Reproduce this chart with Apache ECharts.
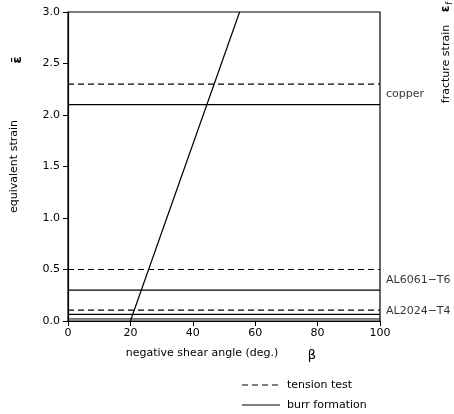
<!DOCTYPE html>
<html>
<head>
<meta charset="utf-8">
<script src="https://cdn.jsdelivr.net/npm/echarts@6/dist/echarts.min.js"></script>
<style>
  html, body { margin: 0; padding: 0; background: #fff; }
  #chart { width: 454px; height: 414px; }
</style>
</head>
<body>
<div id="chart"></div>
<script>
// material names and strain levels
var materials = ['copper', 'AL6061\u2212T6', 'AL2024\u2212T4']
var tensionStrain = [2.3, 0.5, 0.105]
var burrStrain = [2.1, 0.3, 0.065]
var labelStrain = [2.2, 0.4, 0.1]
// extra faint line near the bottom
var bottomLine = [0.02]
// burr formation line against shear angle
var burrAngle = [20, 55]
var burrAngleStrain = [0, 3.0]
var legendNames = ['tension test', 'burr formation']

var font = 'DejaVu Sans, Liberation Sans, sans-serif'
var myChart = echarts.init(document.getElementById('chart'))

var series = []
for (var i = 0; i < materials.length; i++) {
  series.push({
    name: legendNames[0], type: 'line', symbol: 'none', silent: true,
    data: [[0, tensionStrain[i]], [100, tensionStrain[i]]],
    lineStyle: { color: '#000', width: 1.2, type: [6, 4] }
  })
  series.push({
    name: legendNames[1], type: 'line', symbol: 'none', silent: true,
    data: [[0, burrStrain[i]], [100, burrStrain[i]]],
    lineStyle: { color: '#000', width: 1.2, type: 'solid' }
  })
}
series.push({
  name: legendNames[1], type: 'line', symbol: 'none', silent: true,
  data: [[0, bottomLine[0]], [100, bottomLine[0]]],
  lineStyle: { color: '#000', width: 1, type: 'solid' }
})
series.push({
  name: legendNames[1], type: 'line', symbol: 'none', silent: true,
  data: [[burrAngle[0], burrAngleStrain[0]], [burrAngle[1], burrAngleStrain[1]]],
  lineStyle: { color: '#000', width: 1.2, type: 'solid' }
})
// material labels just right of the frame
series.push({
  name: 'labels', type: 'scatter', symbolSize: 0, silent: true,
  data: materials.map(function (m, k) { return { value: [100, labelStrain[k]], name: m } }),
  label: {
    show: true, position: 'right', distance: 6, formatter: '{b}',
    color: '#000', fontFamily: font, fontSize: 11
  }
})

// legend drawn by hand: dashed / solid sample + text
var legendGraphic = []
legendNames.forEach(function (n, k) {
  var y = 385 + k * 20
  legendGraphic.push({
    type: 'line', shape: { x1: 242, y1: y, x2: 280, y2: y },
    style: { stroke: '#000', lineWidth: 1.2, lineDash: k === 0 ? [6, 4] : null }
  })
  legendGraphic.push({
    type: 'text', x: 287, y: y,
    style: { text: n, fill: '#000', font: '11px ' + font, textVerticalAlign: 'middle' }
  })
})

var option = {
  animation: false,
  backgroundColor: '#fff',
  grid: { left: 68, right: 74, top: 12, bottom: 93, show: true, borderColor: '#000', borderWidth: 1.2 },
  xAxis: {
    type: 'value', min: 0, max: 100, interval: 20,
    splitLine: { show: false },
    axisLine: { show: true, lineStyle: { color: '#000', width: 1.2 } },
    axisTick: { show: true, inside: false, length: 5, lineStyle: { color: '#000' } },
    axisLabel: { color: '#000', fontFamily: font, fontSize: 11, margin: 7 }
  },
  yAxis: {
    type: 'value', min: 0, max: 3, interval: 0.5,
    name: 'equivalent strain', nameLocation: 'middle', nameGap: 48,
    nameTextStyle: { color: '#000', fontFamily: font, fontSize: 11 },
    splitLine: { show: false },
    axisLine: { show: true, lineStyle: { color: '#000', width: 1.2 } },
    axisTick: { show: true, inside: false, length: 5, lineStyle: { color: '#000' } },
    axisLabel: {
      color: '#000', fontFamily: font, fontSize: 11, margin: 8,
      formatter: function (v) { return v.toFixed(1) }
    }
  },
  graphic: [
    { type: 'text', x: 202, y: 353, style: { text: 'negative shear angle (deg.)', fill: '#000', font: '11px ' + font, textAlign: 'center', textVerticalAlign: 'middle' } },
    { type: 'text', x: 18, y: 60, rotation: Math.PI / 2, style: { text: '\u03b5\u0304', fill: '#000', font: 'bold 13px ' + font, textAlign: 'center', textVerticalAlign: 'middle' } },
    { type: 'text', x: 312, y: 356, style: { text: '\u03b2', fill: '#000', font: '13px ' + font, textAlign: 'center', textVerticalAlign: 'middle' } },
    { type: 'text', x: 446, y: 64, rotation: Math.PI / 2, style: { text: 'fracture strain', fill: '#000', font: '11px ' + font, textAlign: 'center', textVerticalAlign: 'middle' } },
    { type: 'text', x: 446, y: 9, rotation: Math.PI / 2, style: { text: '\u03b5', fill: '#000', font: 'bold 12px ' + font, textAlign: 'center', textVerticalAlign: 'middle' } },
    { type: 'text', x: 450, y: 3, rotation: Math.PI / 2, style: { text: 'f', fill: '#000', font: '8px ' + font, textAlign: 'center', textVerticalAlign: 'middle' } }
  ].concat(legendGraphic),
  series: series
}
myChart.setOption(option, true)
</script>
</body>
</html>
